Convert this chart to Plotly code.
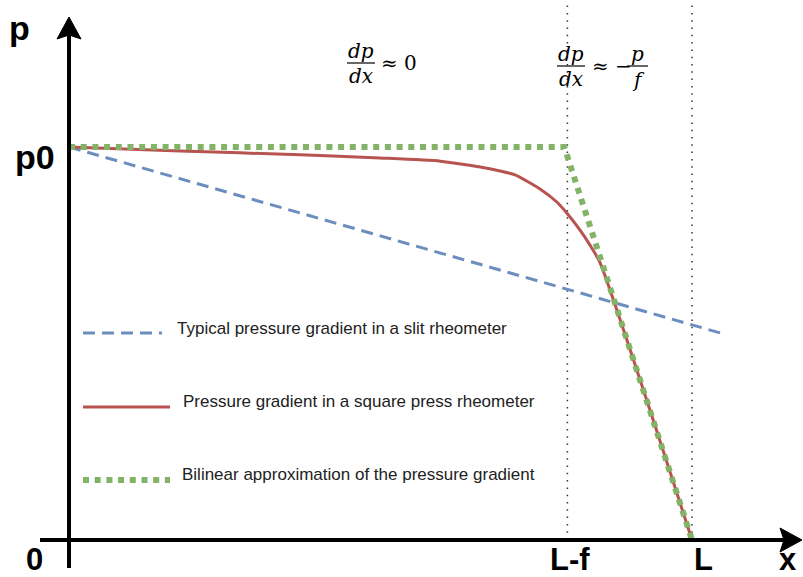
import plotly.graph_objects as go

# ---------------- data (x in units of L, p in units of p0) ----------------
L_F = 0.80          # position of L-f
L = 1.0             # position of L
P0 = 1.0

slit_x = [0.0, 1.045]
slit_p = [1.0, 0.527]

square_x = [0.0, 0.178, 0.371, 0.499, 0.596, 0.660, 0.692, 0.716, 0.756, 0.783,
            0.799, 0.820, 0.836, 0.852, 1.0]
square_p = [1.0, 0.990, 0.980, 0.972, 0.964, 0.949, 0.939, 0.929, 0.893, 0.860,
            0.832, 0.789, 0.751, 0.707, 0.0]

bilin_x = [0.0, 0.795, 1.0]
bilin_p = [1.0, 1.0, 0.0]

legend_labels = ["Typical pressure gradient in a slit rheometer",
                 "Pressure gradient in a square press rheometer",
                 "Bilinear approximation of the pressure gradient"]

# ---------------- geometry helpers (pixel -> data) ----------------
W, H = 803, 577
OX, OY = 69.0, 540.0       # origin pixel
SX, SY = 623.0, 393.0      # pixels per unit


def px(x):
    return (x - OX) / SX


def py(y):
    return (OY - y) / SY


BLUE = "#6c8ebf"
RED = "#b85450"
GREEN = "#82b366"

fig = go.Figure()

# main curves
fig.add_trace(go.Scatter(x=slit_x, y=slit_p, mode="lines",
                         line=dict(color=BLUE, width=3, dash="12px,7px"),
                         hoverinfo="skip", showlegend=False))
fig.add_trace(go.Scatter(x=square_x, y=square_p, mode="lines",
                         line=dict(color=RED, width=3, shape="spline", smoothing=0.6),
                         hoverinfo="skip", showlegend=False))
fig.add_trace(go.Scatter(x=bilin_x, y=bilin_p, mode="lines",
                         line=dict(color=GREEN, width=6, dash="6px,5.7px"),
                         hoverinfo="skip", showlegend=False))

# legend samples (manual)
leg_y = [333, 407, 480]
leg_x1 = [162, 170, 170]
leg_style = [dict(color=BLUE, width=3, dash="12px,7px"),
             dict(color=RED, width=3),
             dict(color=GREEN, width=6, dash="6px,5.7px")]
leg_tx = [175, 181, 180]
leg_ty = [328, 401, 474]
for i in range(3):
    fig.add_trace(go.Scatter(x=[px(83), px(leg_x1[i])], y=[py(leg_y[i])] * 2, mode="lines",
                             line=leg_style[i], hoverinfo="skip", showlegend=False))

shapes = []
# vertical dotted guide lines
for xv in [L_F, L]:
    shapes.append(dict(type="line", xref="x", yref="y", x0=xv, x1=xv, y0=0, y1=py(0),
                       line=dict(color="#333333", width=1.5, dash="1.5px,5.8px"), layer="below"))
# axes
shapes.append(dict(type="line", xref="x", yref="y", x0=0, x1=0, y0=py(568), y1=py(34),
                   line=dict(color="black", width=4)))
shapes.append(dict(type="line", xref="x", yref="y", x0=px(40), x1=px(786), y0=0, y1=0,
                   line=dict(color="black", width=4)))
# arrowheads
shapes.append(dict(type="path", xref="x", yref="y",
                   path="M {} {} L {} {} L {} {} L {} {} Z".format(
                       px(69), py(17), px(57), py(39), px(69), py(35), px(81), py(39)),
                   fillcolor="black", line=dict(color="black", width=1)))
shapes.append(dict(type="path", xref="x", yref="y",
                   path="M {} {} L {} {} L {} {} L {} {} Z".format(
                       px(802), py(540), px(780), py(528), px(784), py(540), px(780), py(552)),
                   fillcolor="black", line=dict(color="black", width=1)))
# fraction bars
shapes.append(dict(type="line", xref="x", yref="y", x0=px(347), x1=px(375), y0=py(63), y1=py(63),
                   line=dict(color="black", width=1.2)))
shapes.append(dict(type="line", xref="x", yref="y", x0=px(557), x1=px(585), y0=py(66), y1=py(66),
                   line=dict(color="black", width=1.2)))
shapes.append(dict(type="line", xref="x", yref="y", x0=px(627), x1=px(648), y0=py(66), y1=py(66),
                   line=dict(color="black", width=1.2)))

ann = []
BIG = dict(family="Liberation Sans, Arial, sans-serif", size=34, color="black")
BOT = dict(family="Liberation Sans, Arial, sans-serif", size=31, color="black")


def add_text(t, x, y, font, xanchor="center", yanchor="middle"):
    ann.append(dict(text=t, x=px(x), y=py(y), xref="x", yref="y", showarrow=False,
                    font=font, xanchor=xanchor, yanchor=yanchor))


add_text("<b>p</b>", 19, 28, BIG)
add_text("<b>p0</b>", 35, 157, BIG)
add_text("<b>0</b>", 34, 559, BOT)
add_text("<b>L-f</b>", 570, 559, BOT)
add_text("<b>L</b>", 703, 559, BOT)
add_text("<b>x</b>", 788, 559, BOT)

LEG = dict(family="Liberation Sans, Arial, sans-serif", size=17, color="#222222")
for i in range(3):
    add_text(legend_labels[i], leg_tx[i], leg_ty[i], LEG, xanchor="left")

MATH = dict(family="DejaVu Serif, serif", size=20, color="black")
add_text("<i>dp</i>", 361, 51, MATH)
add_text("<i>dx</i>", 361, 76, MATH)
add_text("≈ 0", 379, 63, MATH, xanchor="left")
add_text("<i>dp</i>", 571, 54, MATH)
add_text("<i>dx</i>", 571, 79, MATH)
add_text("≈ −", 590, 66, MATH, xanchor="left")
add_text("<i>p</i>", 637, 54, MATH)
add_text("<i>f</i>", 638, 80, MATH)

fig.update_layout(
    width=W, height=H,
    margin=dict(l=0, r=0, t=0, b=0),
    paper_bgcolor="white", plot_bgcolor="white",
    xaxis=dict(range=[px(0), px(W)], visible=False, fixedrange=True),
    yaxis=dict(range=[py(H), py(0)], visible=False, fixedrange=True),
    shapes=shapes, annotations=ann, showlegend=False,
)

fig.write_html("out.html")
